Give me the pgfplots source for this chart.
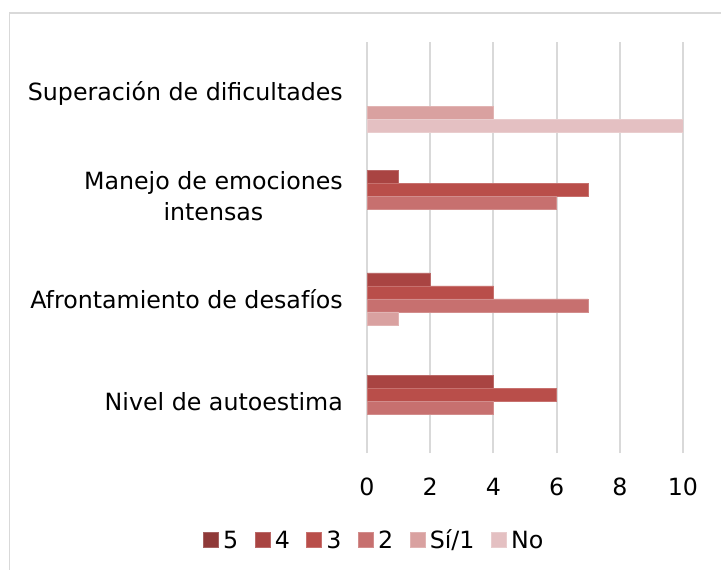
\documentclass[border=0pt]{standalone}
\usepackage{pgfplots}
\pgfplotsset{compat=1.18}
\usepackage{fontspec}
\setmainfont{DejaVu Sans}
\definecolor{cF}{RGB}{143,57,56}
\definecolor{cE}{RGB}{169,68,66}
\definecolor{cD}{RGB}{185,78,74}
\definecolor{cC}{RGB}{199,112,111}
\definecolor{cB}{RGB}{217,161,160}
\definecolor{cA}{RGB}{228,192,194}
\definecolor{gridc}{RGB}{217,217,217}
\pgfplotsset{
  mybar/.style={fill=#1, draw=#1!80!white, line width=0.6bp,
    legend image code/.code={\fill[fill=#1] (0bp,-7.5bp) rectangle (15bp,7.5bp);}},
}
\begin{document}
\begin{tikzpicture}
\useasboundingbox (0,0) rectangle (721bp,570bp);
\draw[color=gridc, line width=1.5bp] (9.5bp,-20bp) rectangle (740bp,557bp);
\begin{axis}[
  at={(367bp,117bp)}, anchor=south west,
  scale only axis, width=316bp, height=411bp,
  xbar, bar width=13bp,
  xmin=0, xmax=10, ymin=-0.5, ymax=3.5,
  enlargelimits=false,
  xtick={0,2,4,6,8,10},
  ytick={0,1,2,3},
  yticklabels={Nivel de autoestima, Afrontamiento de desafíos, {Manejo de emociones\\intensas}, Superación de dificultades},
  font=\fontsize{23.8}{32}\selectfont,
  /pgf/number format/assume math mode=true,
  xmajorgrids, grid style={draw=gridc, line width=2bp},
  axis line style={draw=none},
  tick style={draw=none}, major tick length=0pt,
  xticklabel style={inner sep=0pt, yshift=-25bp},
  yticklabel style={inner sep=0pt, xshift=-24bp, align=center, anchor=east},
  legend columns=-1,
  legend style={at={(0.022,-0.212)}, anchor=center, draw=none, fill=none,
    font=\fontsize{23.8}{28}\selectfont,
    nodes={inner sep=1.5bp},
    /tikz/every odd column/.append style={column sep=3bp},
    /tikz/every even column/.append style={column sep=15bp}},
]
\addlegendimage{mybar=cF}
\addlegendentry{5}
\addplot[mybar=cE, bar shift=19.5bp] coordinates {(1,2) (2,1) (4,0)};
\addlegendentry{4}
\addplot[mybar=cD, bar shift=6.5bp] coordinates {(7,2) (4,1) (6,0)};
\addlegendentry{3}
\addplot[mybar=cC, bar shift=-6.5bp] coordinates {(6,2) (7,1) (4,0)};
\addlegendentry{2}
\addplot[mybar=cB, bar shift=-19.5bp] coordinates {(4,3) (1,1)};
\addlegendentry{Sí/1}
\addplot[mybar=cA, bar shift=-32.5bp] coordinates {(10,3)};
\addlegendentry{No}
\end{axis}
\end{tikzpicture}
\end{document}
